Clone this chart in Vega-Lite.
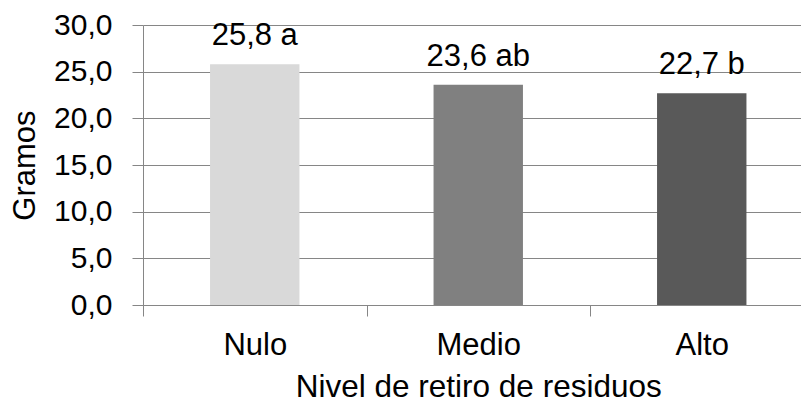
{
  "$schema": "https://vega.github.io/schema/vega-lite/v6.json",
  "width": 658,
  "height": 280,
  "autosize": "none",
  "padding": {"left": 143, "top": 25, "right": 0, "bottom": 97},
  "background": "white",
  "config": {
    "view": {"stroke": null},
    "font": "Liberation Sans",
    "axis": {
      "domainColor": "#868686",
      "tickColor": "#868686",
      "gridColor": "#868686",
      "gridOpacity": 1,
      "domainWidth": 1,
      "tickWidth": 1,
      "gridWidth": 1,
      "labelFont": "Liberation Sans",
      "titleFont": "Liberation Sans",
      "labelFontSize": 30,
      "titleFontSize": 31,
      "labelColor": "#000000",
      "titleColor": "#000000",
      "titleFontWeight": "normal"
    }
  },
  "data": {
    "values": [
      {"nivel": "Nulo", "gramos": 25.8, "etiqueta": "25,8 a"},
      {"nivel": "Medio", "gramos": 23.6, "etiqueta": "23,6 ab"},
      {"nivel": "Alto", "gramos": 22.7, "etiqueta": "22,7 b"}
    ]
  },
  "encoding": {
    "x": {
      "field": "nivel",
      "type": "nominal",
      "sort": ["Nulo", "Medio", "Alto"],
      "scale": {"paddingInner": 0, "paddingOuter": 0, "range": [0, 670.5]},
      "axis": {
        "title": "Nivel de retiro de residuos",
        "titleFontSize": 31.5,
        "labelFontSize": 31,
        "labelAngle": 0,
        "tickBand": "extent",
        "tickSize": 11,
        "labelPadding": 14,
        "titlePadding": 11,
        "grid": false
      }
    }
  },
  "layer": [
    {
      "mark": {"type": "bar", "width": {"band": 0.4}},
      "encoding": {
        "y": {
          "field": "gramos",
          "type": "quantitative",
          "scale": {"domain": [0, 30], "nice": false},
          "axis": {
            "title": "Gramos",
            "values": [0, 5, 10, 15, 20, 25, 30],
            "labelExpr": "replace(format(datum.value, '.1f'), '.', ',')",
            "tickSize": 11,
            "labelPadding": 20,
            "titlePadding": 12,
            "grid": true
          }
        },
        "color": {
          "field": "nivel",
          "type": "nominal",
          "scale": {"domain": ["Nulo", "Medio", "Alto"], "range": ["#d9d9d9", "#808080", "#595959"]},
          "legend": null
        }
      }
    },
    {
      "mark": {"type": "text", "baseline": "alphabetic", "dy": -19, "fontSize": 31, "color": "#000000", "font": "Liberation Sans"},
      "encoding": {
        "y": {"field": "gramos", "type": "quantitative"},
        "text": {"field": "etiqueta"}
      }
    }
  ]
}
